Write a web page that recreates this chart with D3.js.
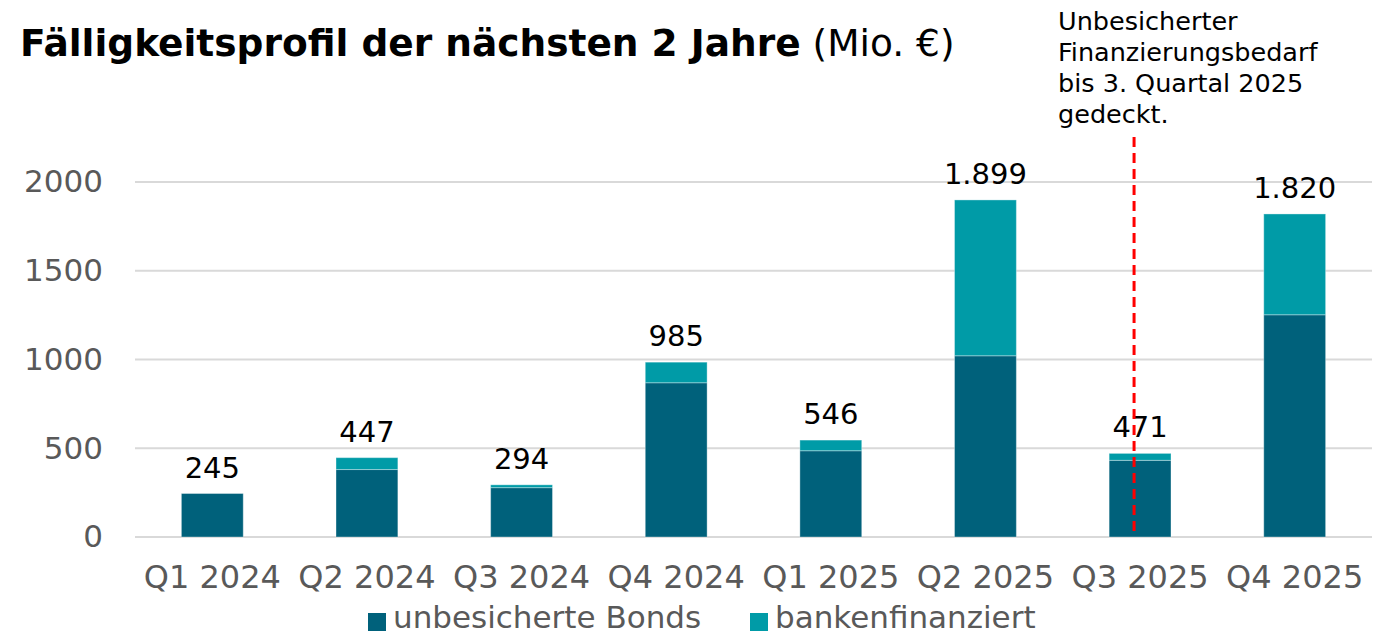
<!DOCTYPE html>
<html>
<head>
<meta charset="utf-8">
<script src="https://cdn.jsdelivr.net/npm/d3@7"></script>
<style>
  body { margin: 0; background: #fff; }
  svg { display: block; font-family: "DejaVu Sans", Verdana, sans-serif; }
</style>
</head>
<body>
<div id="chart"></div>
<script>
// Data (Mio. €)
const quarters = ["Q1 2024", "Q2 2024", "Q3 2024", "Q4 2024", "Q1 2025", "Q2 2025", "Q3 2025", "Q4 2025"];
const bonds    = [245, 380, 278, 869, 486, 1021, 432, 1252];
const banks    = [0, 67, 16, 116, 60, 878, 39, 568];
const yTicks   = [0, 500, 1000, 1500, 2000];
const seriesNames = ["unbesicherte Bonds", "bankenfinanziert"];
const noteLines = ["Unbesicherter", "Finanzierungsbedarf", "bis 3. Quartal 2025", "gedeckt."];
const noteQuarter = "Q3 2025";

const colors = { bonds: "#00617b", banks: "#009ba7" };

const W = 1373, H = 637;
const svg = d3.select("#chart").append("svg")
  .attr("width", W)
  .attr("height", H);

// Title
const title = svg.append("text")
  .attr("x", 20)
  .attr("y", 56)
  .style("font-size", "37.5px")
  .attr("fill", "#000");
title.append("tspan").style("font-weight", "bold").text("Fälligkeitsprofil der nächsten 2 Jahre");
title.append("tspan").text(" (Mio. €)");

// scales
const x = d3.scaleBand()
  .domain(quarters)
  .range([135, 1372])
  .paddingInner(0.6)
  .paddingOuter(0.3);

const y = d3.scaleLinear()
  .domain([0, 2000])
  .range([537, 182]);

// gridlines
svg.append("g")
  .selectAll("line")
  .data(yTicks)
  .join("line")
  .attr("x1", 135)
  .attr("x2", 1372)
  .attr("y1", d => y(d))
  .attr("y2", d => y(d))
  .attr("stroke", "#d9d9d9")
  .attr("stroke-width", 2);

// y axis labels
const yAxis = d3.axisLeft(y).tickValues(yTicks).tickFormat(d3.format("d")).tickSize(0).tickPadding(0);
svg.append("g")
  .attr("transform", "translate(103,0)")
  .call(yAxis)
  .call(g => g.select(".domain").remove())
  .call(g => g.selectAll("text")
    .attr("fill", "#595959")
    .style("font-size", "31px")
    .style("font-family", "DejaVu Sans, Verdana, sans-serif"));

// x axis labels
const xAxis = d3.axisBottom(x).tickSize(0).tickPadding(0);
svg.append("g")
  .attr("transform", "translate(0,565)")
  .call(xAxis)
  .call(g => g.select(".domain").remove())
  .call(g => g.selectAll("text")
    .attr("fill", "#595959")
    .attr("dy", "0.71em")
    .style("font-size", "32px")
    .style("font-family", "DejaVu Sans, Verdana, sans-serif"));

// stacked bars
const rows = quarters.map((q, i) => ({ q, bonds: bonds[i], banks: banks[i] }));
const stack = d3.stack().keys(["bonds", "banks"])(rows);

svg.append("g")
  .selectAll("g")
  .data(stack)
  .join("g")
  .attr("fill", d => colors[d.key])
  .selectAll("rect")
  .data(d => d.filter(s => s[1] - s[0] > 0))
  .join("rect")
  .attr("x", d => x(d.data.q))
  .attr("width", x.bandwidth())
  .attr("y", d => y(d[1]))
  .attr("height", d => y(d[0]) - y(d[1]))
  .attr("stroke", "rgba(255,255,255,0.35)")
  .attr("stroke-width", 1);

// total labels, German number format
const de = d3.formatLocale({ decimal: ",", thousands: ".", grouping: [3], currency: ["", " €"] });
const fmt = de.format(",d");

svg.append("g")
  .selectAll("text")
  .data(rows)
  .join("text")
  .attr("x", d => x(d.q) + x.bandwidth() / 2)
  .attr("y", d => y(d.bonds + d.banks) - 16)
  .attr("text-anchor", "middle")
  .attr("fill", "#000")
  .style("font-size", "29px")
  .text(d => fmt(d.bonds + d.banks));

// dashed marker line + note
const noteX = x(noteQuarter) + x.bandwidth() / 2 - 6;
svg.append("line")
  .attr("x1", noteX)
  .attr("x2", noteX)
  .attr("y1", 137)
  .attr("y2", y(0))
  .attr("stroke", "#ff0000")
  .attr("stroke-width", 3)
  .attr("stroke-dasharray", "10,6");

svg.append("g")
  .selectAll("text")
  .data(noteLines)
  .join("text")
  .attr("x", 1058)
  .attr("y", (d, i) => 30 + i * 31)
  .attr("fill", "#000")
  .style("font-size", "25.5px")
  .text(d => d);

// legend
const legend = svg.append("g").attr("transform", "translate(368,0)");
const legendItems = legend.selectAll("g")
  .data(seriesNames)
  .join("g")
  .attr("transform", (d, i) => `translate(${i * 382},0)`);

legendItems.append("rect")
  .attr("x", 0)
  .attr("y", 613)
  .attr("width", 18)
  .attr("height", 18)
  .attr("fill", (d, i) => i === 0 ? colors.bonds : colors.banks);

legendItems.append("text")
  .attr("x", 25)
  .attr("y", 628)
  .attr("fill", "#595959")
  .style("font-size", "31px")
  .text(d => d);
</script>
</body>
</html>
